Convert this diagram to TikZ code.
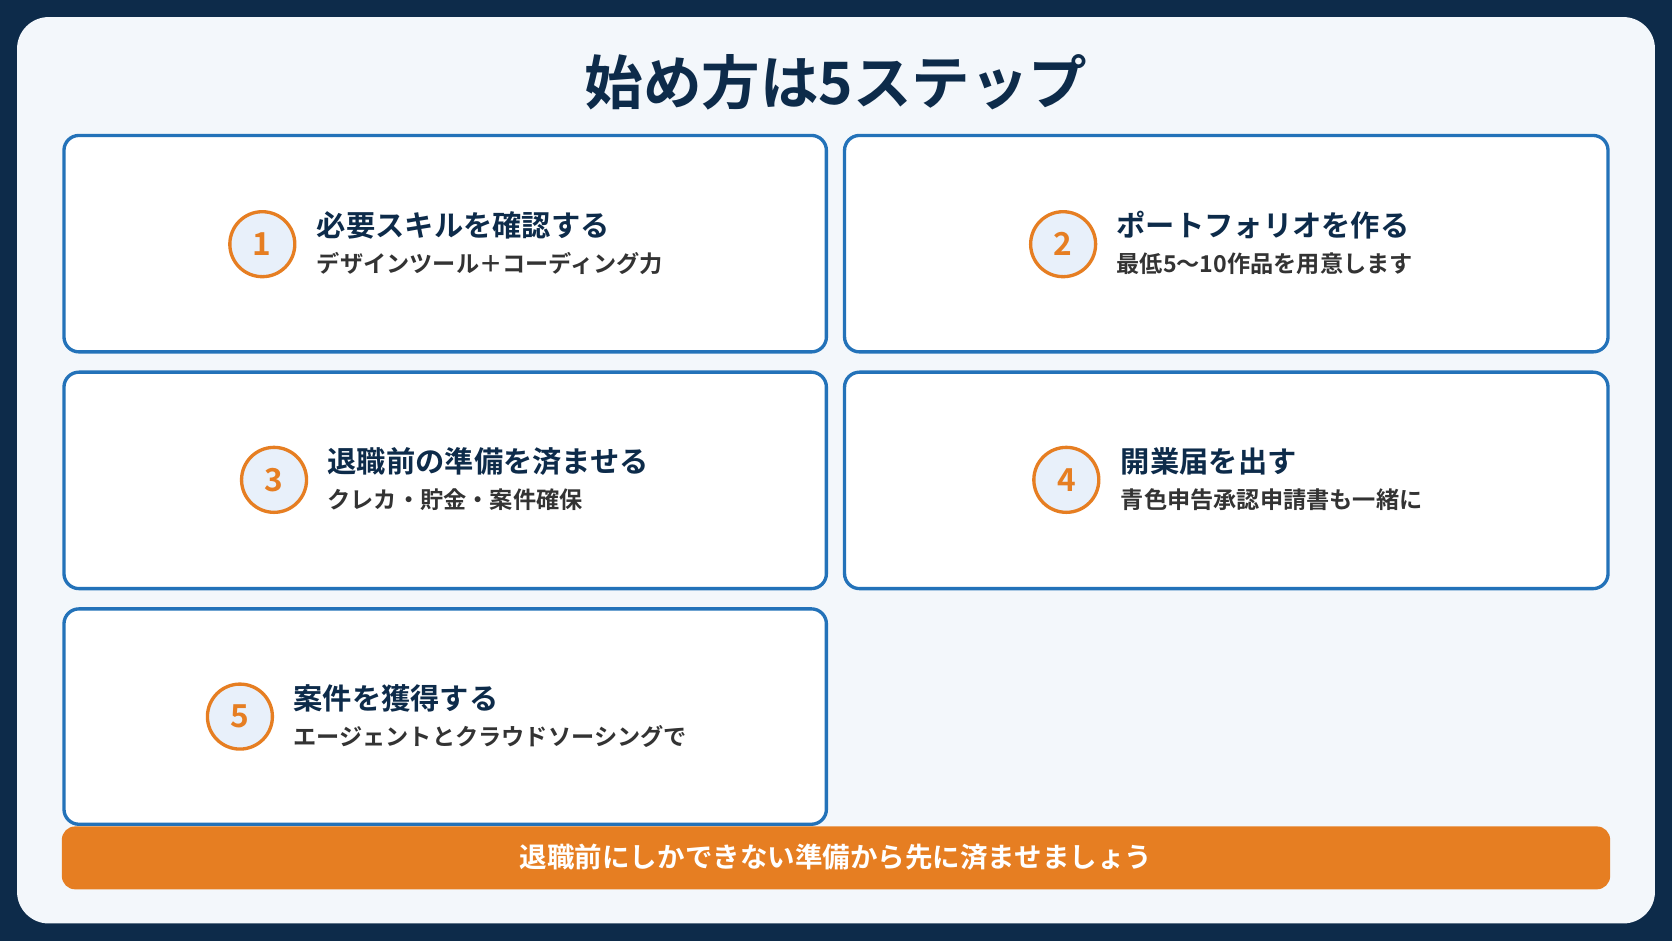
\documentclass[tikz,border=0pt]{standalone}
\usepackage{fontspec}
\setmainfont{Noto Sans CJK JP}[BoldFont={* Bold}]
\usetikzlibrary{positioning}
\definecolor{navy}{HTML}{0D2B4A}
\definecolor{panel}{HTML}{F3F7FB}
\definecolor{stepblue}{HTML}{2372B9}
\definecolor{steporange}{HTML}{E67E22}
\definecolor{circfill}{HTML}{E8F0FA}
\definecolor{subgray}{HTML}{333333}
\begin{document}
\begin{tikzpicture}[x=0.032cm,y=-0.032cm,
  card/.style={draw=stepblue, line width=0.1cm, fill=white, rounded corners=0.45cm},
  num/.style={circle, draw=steporange, line width=0.1cm, fill=circfill, minimum size=1.95cm, inner sep=0pt, text=steporange, font=\bfseries\fontsize{27}{27}\selectfont},
  ttl/.style={anchor=west, inner sep=0pt, text=navy, font=\bfseries\fontsize{25}{27}\selectfont},
  sub/.style={anchor=west, inner sep=0pt, text=subgray, font=\bfseries\fontsize{19.8}{22}\selectfont}]
  % Background
  \fill[navy] (0,0) rectangle (1568,882);
  \fill[panel, rounded corners=0.95cm] (16,16) rectangle (1552,866);
  \useasboundingbox (0,0) rectangle (1568,882);
  % Title
  \node[text=navy, font=\bfseries\fontsize{50}{52}\selectfont] (title) at (784,77) {始め方は5ステップ};
  % Cards
  \draw[card] (60,127) rectangle (775,330);
  \draw[card] (792,127) rectangle (1508,330);
  \draw[card] (60,349) rectangle (775,552);
  \draw[card] (792,349) rectangle (1508,552);
  \draw[card] (60,571) rectangle (775,773);
  % Nodes
  \node[num] (n1) at (246,229) {1};
  \node[ttl] (t1) at (297,211) {必要スキルを確認する};
  \node[sub] (s1) at (297,247) {デザインツール＋コーディング力};
  \node[num] (n2) at (997,229) {2};
  \node[ttl] (t2) at (1047,211) {ポートフォリオを作る};
  \node[sub] (s2) at (1047,247) {最低5〜10作品を用意します};
  \node[num] (n3) at (257,450) {3};
  \node[ttl] (t3) at (307,433) {退職前の準備を済ませる};
  \node[sub] (s3) at (307,469) {クレカ・貯金・案件確保};
  \node[num] (n4) at (1000,450) {4};
  \node[ttl] (t4) at (1051,433) {開業届を出す};
  \node[sub] (s4) at (1051,469) {青色申告承認申請書も一緒に};
  \node[num] (n5) at (225,672) {5};
  \node[ttl] (t5) at (275,655) {案件を獲得する};
  \node[sub] (s5) at (275,691) {エージェントとクラウドソーシングで};
  % Banner
  \fill[steporange, rounded corners=0.4cm] (58,775) rectangle (1510,834);
  \node[text=white, font=\bfseries\fontsize{23.5}{25}\selectfont] (tip) at (784,804) {退職前にしかできない準備から先に済ませましょう};
\end{tikzpicture}
\end{document}
